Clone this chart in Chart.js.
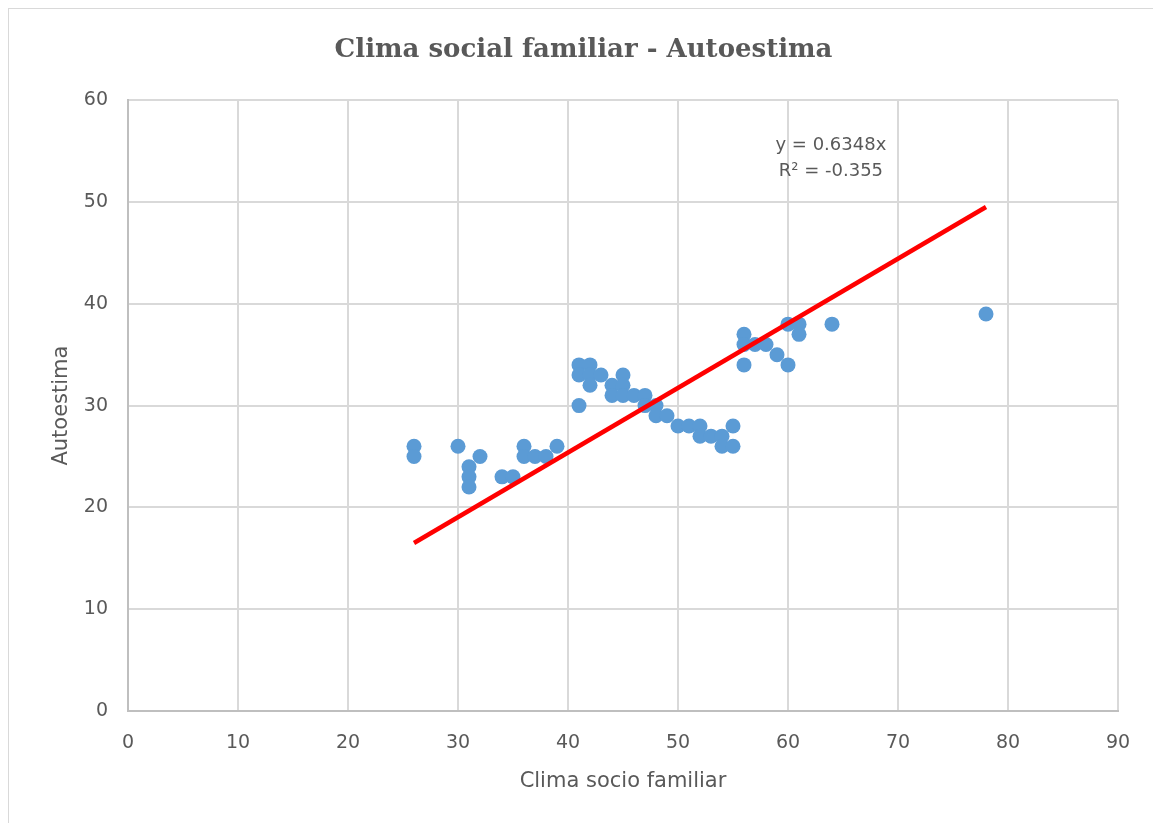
<!DOCTYPE html>
<html>
<head>
<meta charset="utf-8">
<script src="https://cdn.jsdelivr.net/npm/chart.js@4.4.1/dist/chart.umd.min.js"></script>
<style>
html,body{margin:0;padding:0;background:#fff;overflow:hidden}
canvas{display:block}
</style>
</head>
<body>
<canvas id="c" width="1153" height="823"></canvas>
<script>
// ---- Data ----
const chartTitle = 'Clima social familiar - Autoestima';
const xAxisTitle = 'Clima socio familiar';
const yAxisTitle = 'Autoestima';

const climaValues = [26,26,30,31,31,31,32,34,35,36,36,37,38,39,41,41,41,42,42,42,43,44,44,45,45,45,46,47,47,48,48,49,50,51,52,52,53,54,54,55,55,56,56,56,57,58,59,60,60,61,61,64,78];
const autoestimaValues = [26,25,26,24,23,22,25,23,23,26,25,25,25,26,34,33,30,34,33,32,33,32,31,33,32,31,31,31,30,30,29,29,28,28,28,27,27,27,26,28,26,37,36,34,36,36,35,38,34,38,37,38,39];

const trendSlope = 0.6348;
const trendR2 = '-0.355';
const trendXRange = [26, 78];

const xTickValues = [0,10,20,30,40,50,60,70,80,90];
const yTickValues = [0,10,20,30,40,50,60];

const equationLines = ['y = ' + trendSlope + 'x', 'R\u00B2 = ' + trendR2];
const equationAnchor = {x: 63.9, y1: 55.6, y2: 53.0};

// ---- Build datasets ----
const scatterPoints = climaValues.map((v, i) => ({x: v, y: autoestimaValues[i]}));
const trendPoints = trendXRange.map(v => ({x: v, y: trendSlope * v}));

const textColor = '#595959';

const decor = {
  id: 'decor',
  beforeDraw(chart) {
    const ctx = chart.ctx;
    ctx.save();
    ctx.fillStyle = '#fff';
    ctx.fillRect(0, 0, chart.width, chart.height);
    ctx.strokeStyle = '#d9d9d9';
    ctx.lineWidth = 1;
    ctx.strokeRect(8.5, 8.5, chart.width + 10, chart.height + 10);
    ctx.restore();
  },
  afterDatasetsDraw(chart) {
    const {ctx, scales: {x, y}} = chart;
    ctx.save();
    ctx.fillStyle = textColor;
    ctx.font = '18px "DejaVu Sans"';
    ctx.textAlign = 'center';
    ctx.textBaseline = 'middle';
    const px = x.getPixelForValue(equationAnchor.x);
    ctx.fillText(equationLines[0], px, y.getPixelForValue(equationAnchor.y1));
    ctx.fillText(equationLines[1], px, y.getPixelForValue(equationAnchor.y2));
    ctx.restore();
  }
};

new Chart(document.getElementById('c'), {
  type: 'scatter',
  data: {
    datasets: [
      {
        type: 'line',
        label: 'Tendencia',
        data: trendPoints,
        borderColor: '#ff0000',
        borderWidth: 4.5,
        pointRadius: 0,
        fill: false,
        showLine: true
      },
      {
        label: 'Autoestima',
        data: scatterPoints,
        backgroundColor: '#5b9bd5',
        borderWidth: 0,
        pointRadius: 7.5,
        pointHoverRadius: 7.5
      }
    ]
  },
  options: {
    responsive: false,
    animation: false,
    devicePixelRatio: 1,
    layout: {padding: {left: 49, right: 35, top: 0, bottom: 0}},
    plugins: {
      legend: {display: false},
      tooltip: {enabled: false},
      title: {
        display: true,
        text: chartTitle,
        color: textColor,
        font: {family: '"DejaVu Serif"', size: 26, weight: 'bold'},
        padding: {top: 35, bottom: 34}
      }
    },
    scales: {
      x: {
        type: 'linear',
        min: 0, max: 90,
        afterBuildTicks(s) { s.ticks = xTickValues.map(v => ({value: v})); },
        afterFit(s) { s.height = 112; },
        grid: {color: '#d9d9d9', lineWidth: 2, drawTicks: false},
        border: {color: '#bfbfbf', width: 2},
        ticks: {color: textColor, font: {family: '"DejaVu Sans"', size: 19}, padding: 21},
        title: {display: true, text: xAxisTitle, color: textColor,
                font: {family: '"DejaVu Sans"', size: 21}, padding: {top: 0, bottom: 29}}
      },
      y: {
        type: 'linear',
        min: 0, max: 60,
        afterBuildTicks(s) { s.ticks = yTickValues.map(v => ({value: v})); },
        afterFit(s) { s.width = 79; },
        grid: {color: '#d9d9d9', lineWidth: 2, drawTicks: false},
        border: {color: '#bfbfbf', width: 2},
        ticks: {color: textColor, font: {family: '"DejaVu Sans"', size: 19}, padding: 20},
        title: {display: true, text: yAxisTitle, color: textColor,
                font: {family: '"DejaVu Sans"', size: 21}, padding: {top: 0, bottom: 0}}
      }
    }
  },
  plugins: [decor]
});
</script>
</body>
</html>
